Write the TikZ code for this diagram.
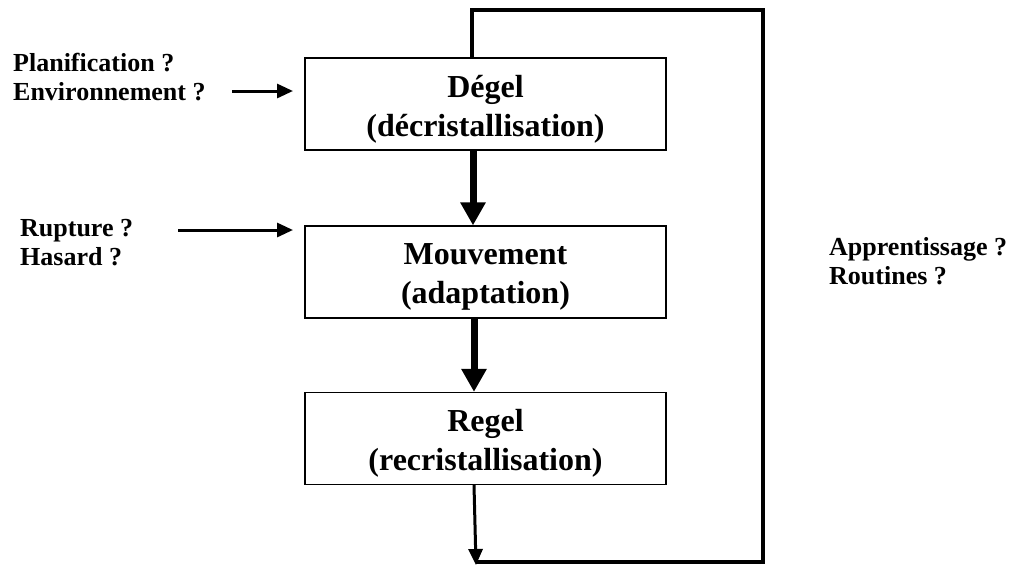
\documentclass[tikz,border=0pt]{standalone}
\usepackage{fontspec}
\setmainfont{Liberation Serif}
\usetikzlibrary{arrows.meta}
\begin{document}
\begin{tikzpicture}[x=1pt,y=-1pt,
  stagebox/.style={draw,line width=1.2pt,minimum width=361pt,minimum height=92pt,inner sep=0pt},
  stagetext/.style={align=center,inner sep=0pt,yshift=-5pt,font=\fontsize{32}{39}\selectfont\bfseries},
  sidelabel/.style={anchor=west,align=left,inner sep=0pt,font=\fontsize{26}{29}\selectfont\bfseries},
  bigarrow/.style={line width=7pt,-{Triangle[length=23pt,width=24pt]}},
  inarrow/.style={line width=3pt,-{Triangle[length=16pt,width=14pt]}},
  loopline/.style={line width=4pt},
  outarrow/.style={line width=3pt,-{Triangle[length=16pt,width=14pt]}}]
\useasboundingbox (0,0) rectangle (1013,566);
\node[stagebox] (b1) at (485.5,104) {};
\node[stagebox] (b2) at (485.5,272) {};
\node[stagebox] (b3) at (485.5,438.5) {};
\node[stagetext] (t1) at (b1) {Dégel\\(décristallisation)};
\node[stagetext] (t2) at (b2) {Mouvement\\(adaptation)};
\node[stagetext] (t3) at (b3) {Regel\\(recristallisation)};
\node[sidelabel] (l1) at (13,77) {Planification ?\\Environnement ?};
\node[sidelabel] (l2) at (20,243) {Rupture ?\\Hasard ?};
\node[sidelabel] (l3) at (829,261) {Apprentissage ?\\Routines ?};
\coordinate (a1s) at (232,91);
\coordinate (a1e) at (293,91);
\coordinate (a2s) at (178,230);
\coordinate (a2e) at (293,230);
\draw[inarrow] (a1s) -- (a1e);
\draw[inarrow] (a2s) -- (a2e);
\draw[bigarrow] (b1.south -| 473,0) -- (b2.north -| 473,0);
\draw[bigarrow] (b2.south -| 474,0) -- (b3.north -| 474,0);
\coordinate (tip) at (476,565);
\coordinate (tl) at (472,10);
\coordinate (tr) at (763,10);
\coordinate (br) at (763,562);
\draw[outarrow] (b3.south -| 474,0) -- (tip);
\draw[loopline] (b1.north -| tl) -- (tl) -- (tr) -- (br) -- (476,562);
\end{tikzpicture}
\end{document}
